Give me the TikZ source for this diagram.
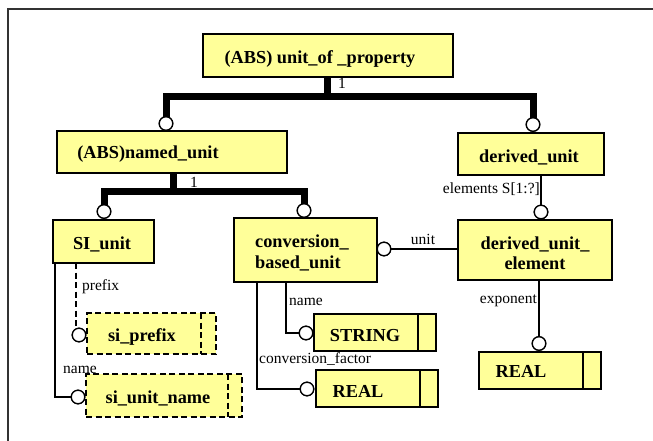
\documentclass[tikz,border=0pt]{standalone}
\usepackage{fontspec}
\setmainfont{Liberation Serif}
\begin{document}
\begin{tikzpicture}[x=1pt,y=-1pt,
  ebox/.style={draw=black, line width=1.8pt, fill=entfill, inner sep=0pt, outer sep=0pt},
  dbox/.style={ebox, dash pattern=on 6pt off 3.5pt},
  ring/.style={circle, draw=black, line width=1.3pt, fill=white, minimum size=13.5pt, inner sep=0pt, outer sep=0pt},
  heavy/.style={line width=7pt, line join=miter},
  link/.style={line width=1.3pt},
  dlink/.style={line width=1.3pt, dash pattern=on 6pt off 3.5pt},
  ename/.style={font=\fontsize{18.3}{20}\selectfont\bfseries, inner sep=0pt},
  role/.style={font=\fontsize{15.5}{17}\selectfont, inner sep=0pt},
]
\definecolor{entfill}{RGB}{255,255,153}
\useasboundingbox (0,0) rectangle (653,441);

% frame
\draw[line width=1.3pt, black!80] (8,441) -- (8,9) -- (653,9);

% entity boxes
\node[ebox, minimum width=250pt, minimum height=43pt] (uop) at (328,55.5) {};
\node[ebox, minimum width=230pt, minimum height=42pt] (nu)  at (172,152) {};
\node[ebox, minimum width=146pt, minimum height=42pt] (du)  at (531,154) {};
\node[ebox, minimum width=101pt, minimum height=43pt] (si)  at (103.5,241.5) {};
\node[ebox, minimum width=143pt, minimum height=64pt] (cbu) at (305.5,250) {};
\node[ebox, minimum width=154pt, minimum height=60pt] (due) at (535,250) {};

% type boxes
\node[dbox, minimum width=129pt, minimum height=41pt] (sip) at (151.5,333.5) {};
\node[dbox, minimum width=156pt, minimum height=43pt] (sun) at (164,395.5) {};
\node[ebox, minimum width=122pt, minimum height=37pt] (str) at (375,332.5) {};
\node[ebox, minimum width=122pt, minimum height=37pt] (rm)  at (377,388.5) {};
\node[ebox, minimum width=122pt, minimum height=37pt] (rr)  at (540,370.5) {};

\draw[dlink] ([xshift=-15pt]sip.north east) -- ([xshift=-15pt]sip.south east);
\draw[dlink] ([xshift=-14pt]sun.north east) -- ([xshift=-14pt]sun.south east);
\draw[link] ([xshift=-18pt]str.north east) -- ([xshift=-18pt]str.south east);
\draw[link] ([xshift=-18pt]rm.north east) -- ([xshift=-18pt]rm.south east);
\draw[link] ([xshift=-18pt]rr.north east) -- ([xshift=-18pt]rr.south east);

% circle ends
\node[ring] (c1) at (166,123.5) {};
\node[ring] (c2) at (533,124.5) {};
\node[ring] (c3) at (104,211.5) {};
\node[ring] (c4) at (304,210.5) {};
\node[ring] (c5) at (541,212) {};
\node[ring] (c6) at (384,249) {};
\node[ring] (c7) at (539,343.5) {};
\node[ring] (c8) at (306,333) {};
\node[ring] (c9) at (307,389) {};
\node[ring] (c10) at (79,335) {};
\node[ring] (c11) at (78,397) {};

% supertype trees
\coordinate (b1) at (327,97);
\coordinate (b2) at (173,191);
\draw[heavy] (uop.south -| b1) -- (b1);
\draw[heavy] (c1.north) -- (c1.north |- b1) -- (c2.north |- b1) -- (c2.north);
\draw[heavy] (nu.south -| b2) -- (b2);
\draw[heavy] (c3.north) -- (c3.north |- b2) -- (c4.north |- b2) -- (c4.north);

% attribute links
\draw[link] (du.south -| c5) -- (c5.north);
\draw[link] (c6.east) -- (due.west |- c6);
\draw[link] (due.south -| c7) -- (c7.north);
\draw[link] (cbu.south -| 286,0) -- (286,333) -- (c8.west);
\draw[link] (cbu.south -| 257,0) -- (257,389) -- (c9.west);
\draw[dlink] (si.south -| 76,0) -- (76,329);
\draw[link] (si.south -| 55,0) -- (55,397) -- (c11.west);

% redraw rings over line ends
\foreach \r in {c1,c2,c3,c4,c5,c6,c7,c8,c9,c10,c11}
  \node[ring] at (\r) {};

% entity names
\node[ename, anchor=base] (t1) at (320,64) {(ABS) unit\_of \_property};
\node[ename, anchor=base] (t2) at (148,158) {(ABS)named\_unit};
\node[ename, anchor=base] (t3) at (529,162) {derived\_unit};
\node[ename, anchor=base] (t4) at (102,249) {SI\_unit};
\node[ename, anchor=base west] (t5) at (255,247) {conversion\_};
\node[ename, anchor=base west] (t6) at (255,268) {based\_unit};
\node[ename, anchor=base] (t7) at (535,249) {derived\_unit\_};
\node[ename, anchor=base] (t8) at (535,269) {element};
\node[ename, anchor=base] (t9) at (142,341) {si\_prefix};
\node[ename, anchor=base] (t10) at (158,403) {si\_unit\_name};
\node[ename, anchor=base] (t11) at (365,341) {STRING};
\node[ename, anchor=base] (t12) at (358,397) {REAL};
\node[ename, anchor=base] (t13) at (521,377) {REAL};

% role labels
\node[role, anchor=base west] (l1) at (338,89) {1};
\node[role, anchor=base west] (l2) at (190,187) {1};
\node[role, anchor=base east] (l3) at (540,193) {elements S[1:?]};
\node[role, anchor=base] (l4) at (423,244) {unit};
\node[role, anchor=base east] (l5) at (537,303) {exponent};
\node[role, anchor=base west] (l6) at (82,290) {prefix};
\node[role, anchor=base west] (l7) at (63,373) {name};
\node[role, anchor=base west] (l8) at (289,305) {name};
\node[role, anchor=base west] (l9) at (259,363) {conversion\_factor};
\end{tikzpicture}
\end{document}
